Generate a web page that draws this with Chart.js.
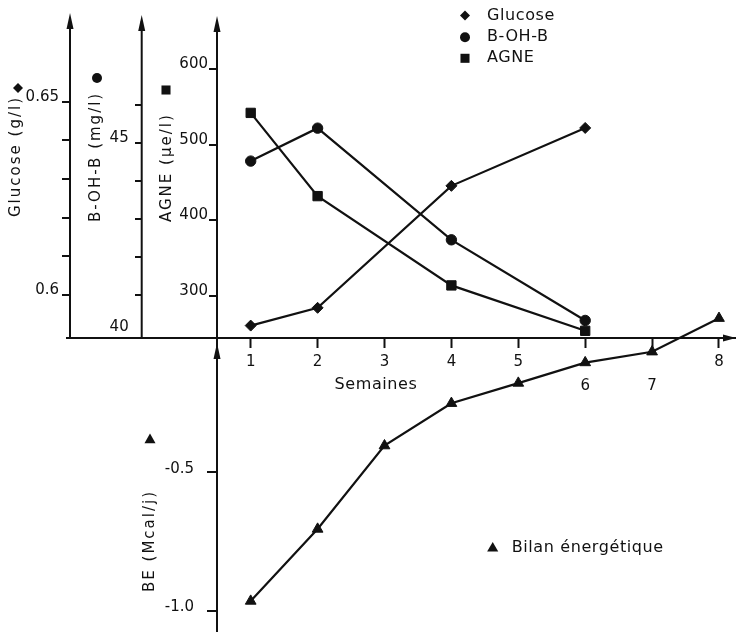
<!DOCTYPE html>
<html>
<head>
<meta charset="utf-8">
<script src="https://cdn.jsdelivr.net/npm/chart.js@4.4.1/dist/chart.umd.min.js"></script>
<style>
  html, body { margin: 0; padding: 0; background: #fff; }
  canvas { display: block; }
</style>
</head>
<body>
<canvas id="c" width="737" height="632"></canvas>
<script>
// ---------------- data ----------------
const weeks = [1, 2, 4, 6];
const glucose = [0.592, 0.5966, 0.6282, 0.6432];
const bohb = [44.53, 45.40, 42.45, 40.32];
const agne = [542, 432, 314, 254];
const beWeeks = [1, 2, 3, 4, 5, 6, 7, 8];
const bilanEnergetique = [-0.966, -0.706, -0.405, -0.252, -0.179, -0.105, -0.066, 0.055];

const weekTicks = [1, 2, 3, 4, 5, 6, 7, 8];
const weekTickLabels = ['1', '2', '3', '4', '5', '6', '7', '8'];
const loweredWeekLabels = ['6', '7'];
const glucoseTicks = [0.60, 0.61, 0.62, 0.63, 0.64, 0.65];
const glucoseTickLabels = ['0.6', '', '', '', '', '0.65'];
const bohbTicks = [40, 41, 42, 43, 44, 45, 46];
const bohbTickLabels = ['40', '', '', '', '', '45', ''];
const agneTicks = [300, 400, 500, 600];
const agneTickLabels = ['300', '400', '500', '600'];
const beTicks = [-1.0, -0.5];
const beTickLabels = ['-1.0', '-0.5'];

const seriesLabels = ['Glucose', 'B-OH-B', 'AGNE', 'Bilan énergétique'];
const axisTitles = ['Glucose (g/l)', 'B-OH-B (mg/l)', 'AGNE (\u03bce/l)', 'BE (Mcal/j)'];
const xTitle = 'Semaines';

// ---------------- styles / layout ----------------
const INK = '#111';
const FONT = '"DejaVu Sans", "Liberation Sans", sans-serif';
const X_AXIS_AT_GLUCOSE = 0.5888;   // x axis crosses the glucose scale here

const D = {
  arrowLen: 16, arrowHalf: 3.5,
  tips: { glucose: 13, bohb: 15, agne: 16 },
  beTip: 343, beBottom: 632, xTip: 736,
  titles: [
    { x: 16.5, bottom: 217, mx: 18, my: 88 },
    { x: 96, bottom: 222, mx: 97, my: 78 },
    { x: 167, bottom: 222, mx: 166, my: 90 },
    { x: 150, bottom: 592, mx: 150, my: 440 }
  ],
  xTitle: { x: 376, y: 385 },
  legend: { mx: 465, tx: 487, rows: [15.5, 37.3, 58.3] },
  beLegend: { mx: 492.7, my: 548.3, tx: 511.7 },
  legendRadius: [5, 5, 6.4, 6.4]
};

// Linear scale whose tick labels sit outside the tick marks when the axis is
// placed at a value of another scale ({x: value}).
class OffsetLinearScale extends Chart.LinearScale {
  _computeLabelItems(chartArea) {
    const items = super._computeLabelItems(chartArea);
    const pos = this.options.position;
    if (this.axis === 'y' && pos && typeof pos === 'object') {
      const g = this.options.grid;
      const shift = (g.display && g.drawTicks ? g.tickLength : 0) + this.options.ticks.padding;
      items.forEach(it => { it.options.translation[0] -= shift; });
    }
    return items;
  }
}
OffsetLinearScale.id = 'offsetLinear';
OffsetLinearScale.defaults = Chart.LinearScale.defaults;
Chart.register(OffsetLinearScale);

function yAxis(atWeek, min, max, ticks, labels, tl, pad, lh, hideValue) {
  return {
    type: 'offsetLinear', axis: 'y', position: { x: atWeek },
    min: min, max: max, bounds: 'data',
    afterBuildTicks: s => { s.ticks = ticks.map(v => ({ value: v })); },
    ticks: {
      autoSkip: false, padding: pad, color: INK,
      font: { family: FONT, size: 15, lineHeight: lh },
      callback: (v, i) => labels[i] ? [labels[i], ''] : ''
    },
    grid: {
      drawOnChartArea: false, drawTicks: true, tickLength: tl, tickWidth: 2, lineWidth: 2,
      color: INK,
      tickColor: c => (c.tick && c.tick.value === hideValue) ? 'rgba(0,0,0,0)' : INK
    },
    border: { display: false }
  };
}

function series(label, xs, ys, yAxisID, pointStyle, radius) {
  return {
    label: label,
    data: xs.map((x, i) => ({ x: x, y: ys[i] })),
    xAxisID: 'x', yAxisID: yAxisID,
    borderColor: INK, backgroundColor: INK, borderWidth: 2.2,
    pointStyle: pointStyle, pointRadius: radius, pointHoverRadius: radius,
    pointBackgroundColor: INK, pointBorderColor: INK, pointBorderWidth: 1,
    tension: 0, fill: false, clip: false
  };
}

function drawMarker(ctx, style, x, y, r) {
  ctx.beginPath();
  if (style === 'circle') {
    ctx.arc(x, y, r, 0, Math.PI * 2);
  } else if (style === 'rect') {
    const h = r * Math.SQRT1_2;
    ctx.rect(x - h, y - h, 2 * h, 2 * h);
  } else if (style === 'rectRot') {
    ctx.moveTo(x, y - r); ctx.lineTo(x + r, y); ctx.lineTo(x, y + r); ctx.lineTo(x - r, y); ctx.closePath();
  } else if (style === 'triangle') {
    ctx.moveTo(x, y - r); ctx.lineTo(x + r * 0.866, y + r / 2); ctx.lineTo(x - r * 0.866, y + r / 2); ctx.closePath();
  }
  ctx.fill();
}

const decorPlugin = {
  id: 'decor',
  afterDraw(chart) {
    const { ctx, scales } = chart;
    const xs = scales.x;
    const baseY = scales.glucose.getPixelForValue(X_AXIS_AT_GLUCOSE);
    const axisX = id => xs.getPixelForValue(scales[id].options.position.x);
    const AL = D.arrowLen, AH = D.arrowHalf;
    ctx.save();
    ctx.fillStyle = INK; ctx.strokeStyle = INK; ctx.lineWidth = 2;
    const vline = (x, y1, y2) => { ctx.beginPath(); ctx.moveTo(x, y1); ctx.lineTo(x, y2); ctx.stroke(); };
    const arrowUp = (x, tip) => {
      ctx.beginPath(); ctx.moveTo(x, tip); ctx.lineTo(x + AH, tip + AL); ctx.lineTo(x - AH, tip + AL); ctx.closePath(); ctx.fill();
    };
    const gx = axisX('glucose');
    vline(gx, baseY + 1, D.tips.glucose + 6); arrowUp(gx, D.tips.glucose);
    const bx = axisX('bohb');
    vline(bx, baseY + 1, D.tips.bohb + 6); arrowUp(bx, D.tips.bohb);
    const ax = axisX('agne');
    vline(ax, D.beBottom, D.tips.agne + 6); arrowUp(ax, D.tips.agne); arrowUp(ax, D.beTip);
    // x arrow
    ctx.beginPath();
    ctx.moveTo(D.xTip, baseY); ctx.lineTo(D.xTip - AL + 3, baseY - AH); ctx.lineTo(D.xTip - AL + 3, baseY + AH); ctx.closePath(); ctx.fill();

    const ds = chart.data.datasets;
    // rotated axis titles with their symbols
    D.titles.forEach((t, i) => {
      ctx.save();
      ctx.translate(t.x, t.bottom); ctx.rotate(-Math.PI / 2);
      ctx.font = '15px ' + FONT; ctx.letterSpacing = '2px';
      ctx.textAlign = 'left'; ctx.textBaseline = 'middle';
      ctx.fillText(axisTitles[i], 0, 0);
      ctx.restore();
      drawMarker(ctx, ds[i].pointStyle, t.mx, t.my, D.legendRadius[i]);
    });
    // x title
    ctx.font = '16px ' + FONT; ctx.letterSpacing = '0.6px';
    ctx.textAlign = 'center'; ctx.textBaseline = 'middle';
    ctx.fillText(xTitle, D.xTitle.x, D.xTitle.y);
    // legends
    ctx.textAlign = 'left';
    for (let i = 0; i < 3; i++) {
      drawMarker(ctx, ds[i].pointStyle, D.legend.mx, D.legend.rows[i], D.legendRadius[i]);
      ctx.fillText(ds[i].label, D.legend.tx, D.legend.rows[i]);
    }
    drawMarker(ctx, ds[3].pointStyle, D.beLegend.mx, D.beLegend.my, D.legendRadius[3]);
    ctx.fillText(ds[3].label, D.beLegend.tx, D.beLegend.my);
    ctx.restore();
  }
};

new Chart(document.getElementById('c'), {
  type: 'line',
  data: {
    datasets: [
      series(seriesLabels[0], weeks, glucose, 'glucose', 'rectRot', 5.5),
      series(seriesLabels[1], weeks, bohb, 'bohb', 'circle', 5.2),
      series(seriesLabels[2], weeks, agne, 'agne', 'rect', 6.6),
      series(seriesLabels[3], beWeeks, bilanEnergetique, 'be', 'triangle', 6.2)
    ]
  },
  options: {
    responsive: false, animation: false, devicePixelRatio: 1, events: [],
    layout: { autoPadding: false, padding: { left: 67, right: 2, top: 20, bottom: 20 } },
    plugins: { legend: { display: false }, tooltip: { enabled: false } },
    scales: {
      x: {
        type: 'linear', axis: 'x', position: { glucose: X_AXIS_AT_GLUCOSE },
        min: -1.7459, max: 8.2392, bounds: 'data',
        afterBuildTicks: s => { s.ticks = weekTicks.map(v => ({ value: v })); },
        ticks: {
          autoSkip: false, maxRotation: 0, minRotation: 0, padding: 3, color: INK,
          font: { family: FONT, size: 15, lineHeight: '24px' },
          callback: (v, i) => loweredWeekLabels.includes(weekTickLabels[i]) ? ['', weekTickLabels[i]] : weekTickLabels[i]
        },
        grid: { drawOnChartArea: false, drawTicks: true, tickLength: 9, tickWidth: 2, tickColor: INK, color: INK },
        border: { display: true, color: INK, width: 2 }
      },
      glucose: yAxis(-1.7010, 0.517798, 0.671166, glucoseTicks, glucoseTickLabels, 8, 3, '10px', null),
      bohb: yAxis(-0.6293, 32.6169, 48.2576, bohbTicks, bohbTickLabels, 7, 6, '10px', 40),
      agne: yAxis(0.4963, -117.621, 664.758, agneTicks, agneTickLabels, 8, 1, '10px', null),
      be: yAxis(0.4963, -1.005415, 1.131770, beTicks, beTickLabels, 10, 13, '6px', null)
    }
  },
  plugins: [decorPlugin]
});
</script>
</body>
</html>
